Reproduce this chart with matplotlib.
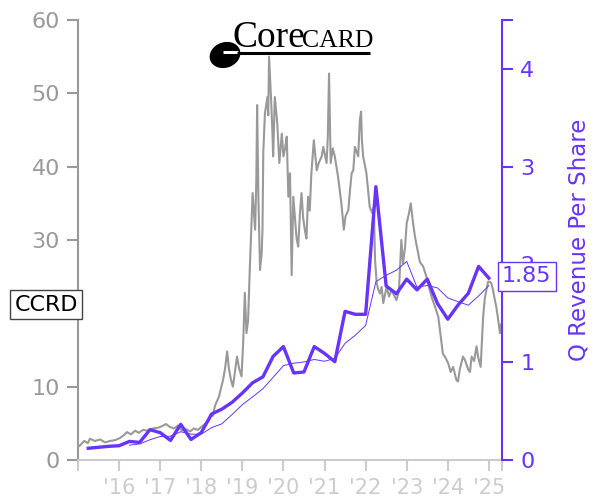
import matplotlib
matplotlib.use("Agg")
import matplotlib.pyplot as plt
from matplotlib.patches import Ellipse

# daily close (decimal year, USD)
price_t = [2015.00, 2015.05, 2015.15, 2015.24, 2015.29, 2015.41, 2015.54, 2015.66, 2015.78, 2015.90,
           2016.02, 2016.12, 2016.19, 2016.29, 2016.39, 2016.48, 2016.58, 2016.70, 2016.82, 2016.95,
           2017.04, 2017.14, 2017.24, 2017.34, 2017.43, 2017.53, 2017.63, 2017.73, 2017.82, 2017.92,
           2018.02, 2018.11, 2018.19, 2018.24, 2018.28, 2018.33, 2018.38, 2018.43, 2018.48, 2018.53,
           2018.58, 2018.63, 2018.67, 2018.72, 2018.77, 2018.82, 2018.87, 2018.92, 2018.98, 2019.02,
           2019.06, 2019.10, 2019.14, 2019.18, 2019.25, 2019.28, 2019.31, 2019.34, 2019.36, 2019.39,
           2019.43, 2019.47, 2019.49, 2019.51, 2019.55, 2019.61, 2019.63, 2019.65, 2019.70, 2019.73,
           2019.75, 2019.79, 2019.85, 2019.90, 2019.96, 2020.00, 2020.04, 2020.08, 2020.12, 2020.16,
           2020.20, 2020.24, 2020.28, 2020.32, 2020.36, 2020.40, 2020.44, 2020.48, 2020.52, 2020.56,
           2020.60, 2020.64, 2020.68, 2020.74, 2020.81, 2020.86, 2020.93, 2020.97, 2021.05, 2021.08,
           2021.11, 2021.15, 2021.20, 2021.25, 2021.33, 2021.41, 2021.47, 2021.51, 2021.58, 2021.62,
           2021.66, 2021.70, 2021.74, 2021.82, 2021.86, 2021.89, 2021.91, 2021.94, 2022.02, 2022.10,
           2022.17, 2022.20, 2022.23, 2022.27, 2022.31, 2022.35, 2022.39, 2022.43, 2022.51, 2022.57,
           2022.63, 2022.69, 2022.75, 2022.81, 2022.87, 2022.91, 2022.96, 2023.00, 2023.05, 2023.10,
           2023.15, 2023.20, 2023.28, 2023.32, 2023.40, 2023.48, 2023.56, 2023.62, 2023.69, 2023.77,
           2023.85, 2023.88, 2023.93, 2024.01, 2024.07, 2024.13, 2024.21, 2024.25, 2024.29, 2024.37,
           2024.42, 2024.50, 2024.54, 2024.58, 2024.64, 2024.70, 2024.74, 2024.80, 2024.83, 2024.86,
           2024.90, 2024.94, 2024.98, 2025.02, 2025.06, 2025.10, 2025.14, 2025.18, 2025.23, 2025.27,
           2025.30]
price = [1.8, 2.0, 2.6, 2.3, 2.9, 2.6, 2.8, 2.4, 2.6, 2.7,
         3.0, 3.4, 3.8, 3.5, 4.0, 3.7, 4.1, 4.0, 4.3, 4.4,
         4.6, 4.9, 4.5, 4.3, 4.7, 4.0, 4.2, 3.9, 4.3, 4.1,
         4.6, 5.0, 5.4, 6.2, 6.0, 7.3, 8.0, 8.6, 9.8, 10.9,
         12.5, 14.8, 12.6, 11.0, 10.0, 12.0, 14.1, 12.5, 11.4, 16.0,
         22.8, 17.3, 19.0, 25.9, 36.4, 34.0, 31.4, 38.0, 48.4, 36.0,
         25.9, 28.2, 31.4, 42.0, 47.3, 49.5, 47.0, 55.0, 49.1, 45.0,
         41.4, 49.5, 45.9, 40.5, 44.5, 41.4, 42.5, 44.1, 35.9, 39.1,
         25.2, 35.9, 33.0, 30.2, 29.1, 33.5, 36.4, 33.0, 31.4, 30.2,
         35.9, 34.0, 39.1, 43.6, 39.5, 40.5, 41.4, 42.7, 40.5, 44.0,
         52.7, 40.5, 42.5, 41.4, 38.6, 35.0, 31.4, 33.2, 34.1, 36.8,
         39.1, 39.5, 42.7, 41.4, 46.4, 47.5, 43.6, 41.4, 39.1, 34.5,
         33.6, 34.5, 27.3, 24.1, 23.2, 22.7, 23.6, 21.4, 23.6, 22.3,
         23.2, 22.5, 21.8, 23.0, 30.0, 26.8, 29.0, 32.3, 33.5, 35.0,
         32.5, 30.5, 28.2, 27.0, 26.4, 25.0, 23.2, 22.0, 20.9, 19.5,
         15.9, 14.5, 14.1, 13.2, 12.0, 12.7, 10.9, 10.7, 12.3, 14.1,
         13.6, 12.3, 12.0, 14.1, 13.5, 15.5, 14.0, 12.7, 16.0, 19.5,
         22.0, 23.2, 24.3, 24.3, 24.1, 23.2, 22.0, 20.9, 19.0, 17.3,
         18.5]

# quarterly revenue per share
rev_t = [2015.25, 2015.50, 2015.75, 2016.00, 2016.25, 2016.50, 2016.75, 2017.00,
         2017.25, 2017.50, 2017.75, 2018.00, 2018.25, 2018.50, 2018.75, 2019.00,
         2019.25, 2019.50, 2019.75, 2020.00, 2020.25, 2020.50, 2020.75, 2021.00,
         2021.25, 2021.50, 2021.75, 2022.00, 2022.25, 2022.50, 2022.75, 2023.00,
         2023.25, 2023.50, 2023.75, 2024.00, 2024.25, 2024.50, 2024.75, 2025.00]
rev = [0.12, 0.13, 0.14, 0.146, 0.19, 0.18, 0.31, 0.28,
       0.20, 0.365, 0.21, 0.28, 0.47, 0.52, 0.59, 0.685,
       0.79, 0.85, 1.06, 1.16, 0.89, 0.90, 1.16, 1.09,
       1.005, 1.52, 1.49, 1.49, 2.795, 1.78, 1.70, 1.85,
       1.74, 1.85, 1.60, 1.44, 1.585, 1.705, 1.98, 1.86]

# trailing four-quarter average (thin line), from 2016.25
avg_t = rev_t[4:]
rev_avg = [0.152, 0.164, 0.207, 0.24, 0.243, 0.289, 0.264, 0.264,
           0.331, 0.37, 0.465, 0.566, 0.646, 0.729, 0.846, 0.965,
           0.99, 1.003, 1.028, 1.01, 1.039, 1.194, 1.276, 1.376,
           1.824, 1.889, 1.941, 2.031, 1.768, 1.785, 1.76, 1.658,
           1.619, 1.583, 1.678, 1.783]

year_ticks = [2015, 2016, 2017, 2018, 2019, 2020, 2021, 2022, 2023, 2024, 2025, 2025.32]
year_labels = ["", "'16", "'17", "'18", "'19", "'20", "'21", "'22", "'23", "'24", "'25", ""]
price_ticks = [0, 10, 20, 30, 40, 50, 60]
price_labels = ["0", "10", "", "30", "40", "50", "60"]   # '20' sits under the ticker box

PURPLE = "#6633ff"
GRAY = "#999999"
LIGHT = "#cccccc"

fig = plt.figure(figsize=(6, 5), dpi=100)
ax = fig.add_axes([0.13, 0.08, 0.7067, 0.88])
ax2 = ax.twinx()

ax.plot(price_t, price, color=GRAY, lw=1.5)
ax2.plot(avg_t, rev_avg, color=PURPLE, lw=0.7)
ax2.plot(rev_t, rev, color=PURPLE, lw=2.4)

ax.set_xlim(2015.0, 2025.32)
ax.set_ylim(0, 60)
ax2.set_ylim(0, 4.5)

ax.set_xticks(year_ticks)
ax.set_xticklabels(year_labels)
ax.set_yticks(price_ticks)
ax.set_yticklabels(price_labels)
ax2.set_yticks([0, 1, 2, 3, 4, 4.5])
ax2.set_yticklabels(["0", "1", "2", "3", "4", ""])

for a in (ax, ax2):
    a.spines["top"].set_visible(False)
ax.spines["right"].set_visible(False)
ax2.spines["left"].set_visible(False)
ax2.spines["bottom"].set_visible(False)
ax.spines["left"].set_color(GRAY)
ax.spines["left"].set_linewidth(1.5)
ax.spines["bottom"].set_color(LIGHT)
ax.spines["bottom"].set_linewidth(1.5)
ax2.spines["right"].set_color(PURPLE)
ax2.spines["right"].set_linewidth(1.5)

ax.tick_params(axis="y", colors=GRAY, labelsize=16, length=8, width=1.5, pad=5)
ax.tick_params(axis="x", colors=LIGHT, labelsize=15, length=8, width=1.5, pad=5)
ax2.tick_params(axis="y", colors=PURPLE, labelsize=16, length=8, width=1.5, pad=5)
ax2.set_ylabel("Q Revenue Per Share", color=PURPLE, fontsize=16.5, labelpad=24)

# ticker box on the left, last value box on the right
ax.text(0, 21.2, "CCRD", transform=ax.get_yaxis_transform(), ha="right", va="center",
        fontsize=16, color="black", zorder=10, clip_on=False,
        bbox=dict(boxstyle="square,pad=0.2", fc="white", ec="#444444", lw=1))
ax2.text(1.0, 1.88, "1.85", transform=ax2.get_yaxis_transform(), ha="left", va="center",
         fontsize=16, color=PURPLE, zorder=10, clip_on=False,
         bbox=dict(boxstyle="square,pad=0.2", fc="white", ec=PURPLE, lw=1))

# logo, drawn in pixel-like coordinates
lg = fig.add_axes([205 / 600, 1 - 75 / 500, 170 / 600, 65 / 500])
lg.set_xlim(205, 375)
lg.set_ylim(75, 10)
lg.axis("off")
lg.add_patch(Ellipse((225, 55), 30, 24, angle=-20, color="black"))
lg.plot([223, 238], [52, 52], color="white", lw=2.2, solid_capstyle="butt")
lg.plot([237, 370], [53, 53], color="black", lw=2.2, solid_capstyle="butt")
lg.text(233, 47, "Core", family="Liberation Serif", fontsize=27, va="baseline", ha="left")
lg.text(302, 47, "CARD", family="Liberation Serif", fontsize=18.5, va="baseline", ha="left")

fig.savefig("out.png", dpi=100)
